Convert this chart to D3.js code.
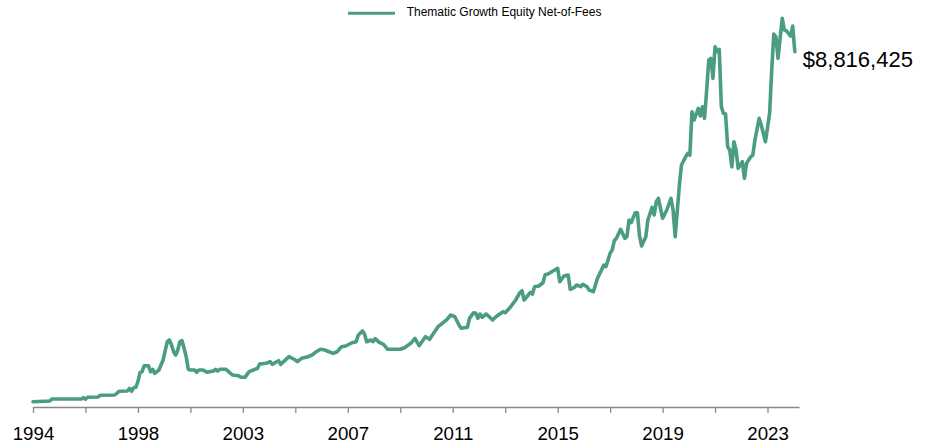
<!DOCTYPE html>
<html>
<head>
<meta charset="utf-8">
<script src="https://cdn.jsdelivr.net/npm/d3@7"></script>
<style>
	body { margin: 0; background: #fff; }
	svg { display: block; }
	.axis text { font-family: "Liberation Sans", Arial, sans-serif; font-size: 18.7px; fill: #000; }
	.axis path, .axis line { stroke: #898989; stroke-width: 1.3px; }
	.legend_text { font-family: "Liberation Sans", Arial, sans-serif; font-size: 12px; fill: #000; }
	.end_label { font-family: "Liberation Sans", Arial, sans-serif; font-size: 22px; fill: #000; }
</style>
</head>
<body>
<div id="chart"></div>
<script>
var seriesName = "Thematic Growth Equity Net-of-Fees";

// months since Jan 1994
var months = [0,8,9,23,24,25,26,31,32,39,41,45,46,47,48,49,50,51,52,53,55,56,57,58,60,61,62,63,64,65,66,67,68,69,70,71,72,73,74,75,77,78,79,81,83,84,86,87,88,89,92,95,98,99,101,103,107,108,111,113,114,117,118,122,125,126,128,131,133,135,137,139,143,145,147,149,152,154,155,157,158,159,161,162,163,165,167,169,175,177,180,182,184,187,189,190,193,195,197,199,201,203,204,207,208,210,211,212,213,214,216,219,221,224,225,227,230,232,233,234,236,237,238,239,241,243,244,246,248,250,251,253,255,256,258,259,261,262,264,265,267,269,272,273,275,276,277,278,280,282,283,284,285,287,288,289,290,292,293,295,296,297,298,300,302,304,305,306,308,309,311,312,313,314,315,317,318,319,320,321,322,323,324,325,326,327,328,329,330,331,332,333,334,335,336,338,339,340,342,343,344,346,347,349,351,352,353,354,355,357,358,359,361,362,363];

// portfolio value, $ thousands
var values = [131,149,198,198,231,191,241,248,290,298,390,397,464,390,479,489,628,851,876,1025,1025,876,935,836,918,1042,1166,1400,1620,1662,1538,1372,1290,1414,1620,1645,1456,1248,935,918,918,861,918,918,861,876,893,935,893,935,935,794,777,737,737,876,960,1067,1084,1124,1059,1149,1059,1248,1166,1124,1208,1248,1290,1372,1432,1414,1332,1372,1496,1513,1595,1620,1786,1886,1804,1620,1662,1620,1695,1605,1556,1432,1432,1471,1580,1704,1521,1744,1680,1762,1992,2077,2158,2283,2240,2034,1953,1977,2201,2340,2325,2201,2307,2226,2307,2158,2258,2364,2340,2449,2655,2836,2885,2655,2779,2846,2804,2985,3002,3084,3275,3317,3382,3441,3109,3250,3275,2920,2970,3027,2985,3044,2985,2903,2861,3193,3523,3481,3813,3895,4126,4186,4409,4186,4225,4639,4573,4821,4821,4250,3994,4225,4639,4955,4764,5094,5178,4682,4888,5178,4888,4225,5508,6004,6210,6294,6252,7327,7120,7411,7220,7451,7163,7865,8609,8652,8155,8939,8815,8875,7451,7287,7269,6458,6376,5962,6582,6376,5922,6086,5674,6046,6210,6252,6624,7163,6997,6582,7287,8361,9254,9187,8652,9644,9354,9336,9205,9453,8816.425];

// one tick every 25 months, label on every other one
var tickLabels = ["1994","","1998","","2003","","2007","","2011","","2015","","2019","","2023"];

var width = 932,
height = 448,
lineColor = "#4a9d82";

var dataset = months.map(function(m, i) {
	return { month: m, value: values[i] };
});

var svg = d3.select("#chart").append("svg")
.attr("width", width)
.attr("height", height);

var xScale = d3.scaleLinear()
.domain([0, 365])
.range([33, 799]);

var yScale = d3.scaleLinear()
.domain([0, 10000])
.range([407, 4]);

var xAxis = d3.axisBottom(xScale)
.tickValues(d3.range(0, 351, 25))
.tickSize(6)
.tickSizeOuter(0)
.tickPadding(14)
.tickFormat(function(d, i) { return tickLabels[i]; });

svg.append("g")
.attr("class", "axis")
.attr("transform", "translate(0," + yScale(0) + ")")
.call(xAxis);

var line = d3.line()
.x(function(d) { return xScale(d.month); })
.y(function(d) { return yScale(d.value); });

svg.append("path")
.datum(dataset)
.attr("d", line)
.attr("fill", "none")
.attr("stroke", lineColor)
.attr("stroke-width", 3.6)
.attr("stroke-linejoin", "round")
.attr("stroke-linecap", "round");

//End value label
var last = dataset[dataset.length - 1];
svg.append("text")
.attr("class", "end_label")
.attr("x", xScale(last.month) + 8)
.attr("y", yScale(last.value) + 15.5)
.text(d3.format("$,.0f")(last.value * 1000));

//Legend
var legend = svg.append("g")
.attr("transform", "translate(348,13.3)");

legend.append("line")
.attr("x1", 0)
.attr("x2", 47)
.attr("stroke", lineColor)
.attr("stroke-width", 3);

legend.append("text")
.attr("class", "legend_text")
.attr("x", 58.7)
.attr("y", 2.3)
.text(seriesName);
</script>
</body>
</html>
